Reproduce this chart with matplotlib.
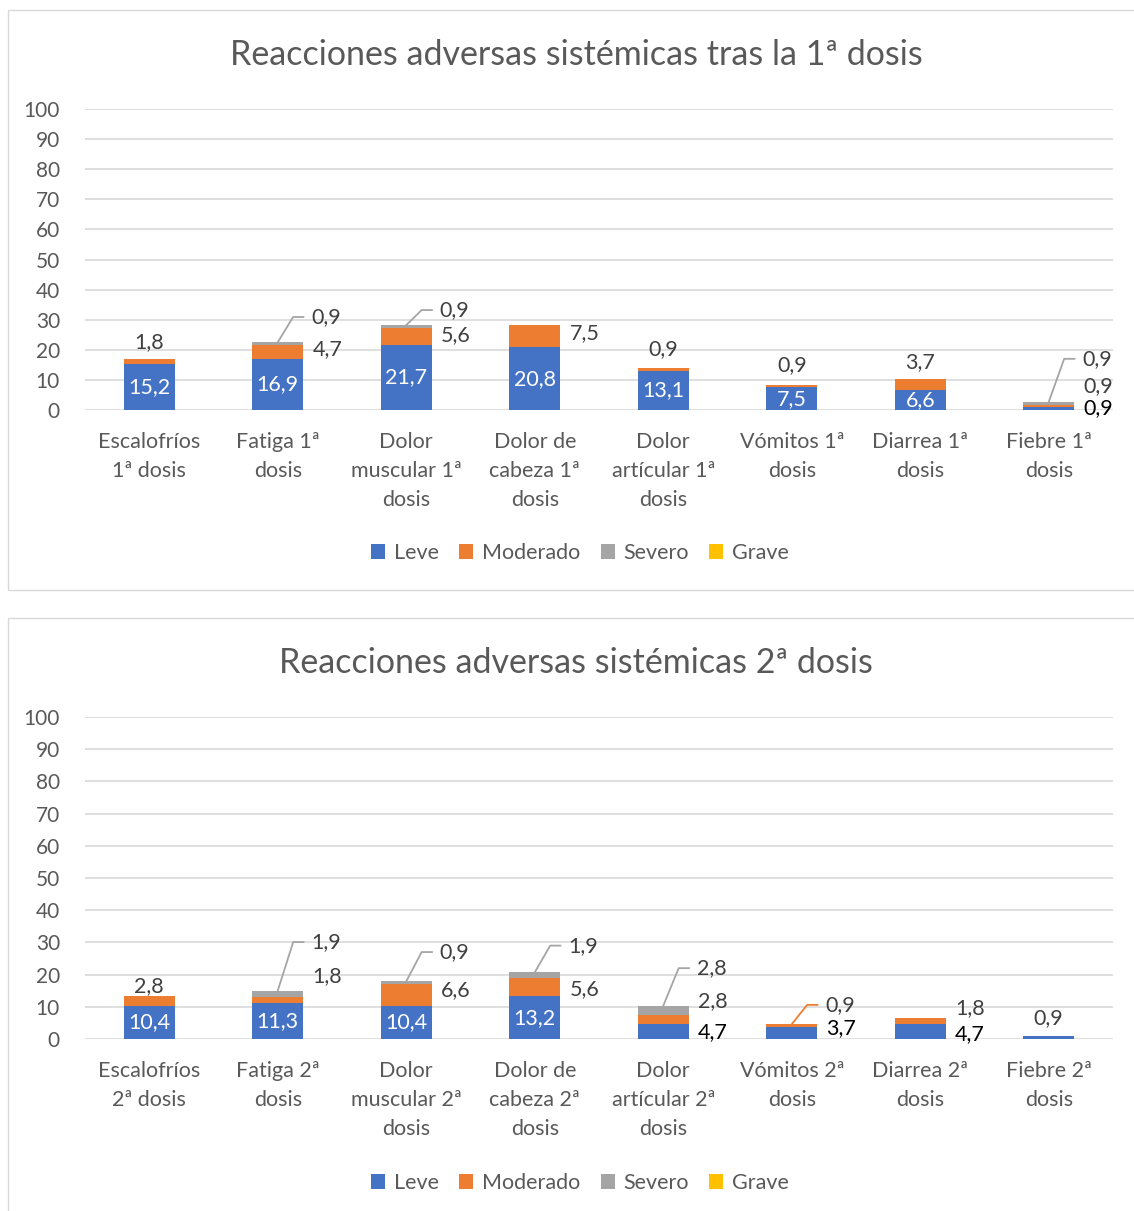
import textwrap
import numpy as np
import matplotlib
matplotlib.use('Agg')
import matplotlib.pyplot as plt
from matplotlib.patches import Rectangle

plt.rcParams['font.family'] = ['Lato', 'DejaVu Sans']

# datos
series = ['Leve', 'Moderado', 'Severo', 'Grave']
colores = ['#4472C4', '#ED7D31', '#A5A5A5', '#FFC000']

cat_1 = ['Escalofríos 1ª dosis', 'Fatiga 1ª dosis', 'Dolor muscular 1ª dosis',
         'Dolor de cabeza 1ª dosis', 'Dolor artícular 1ª dosis', 'Vómitos 1ª dosis',
         'Diarrea 1ª dosis', 'Fiebre 1ª dosis']
leve_1 = [15.2, 16.9, 21.7, 20.8, 13.1, 7.5, 6.6, 0.9]
moderado_1 = [1.8, 4.7, 5.6, 7.5, 0.9, 0.9, 3.7, 0.9]
severo_1 = [0, 0.9, 0.9, 0, 0, 0, 0, 0.9]
grave_1 = [0, 0, 0, 0, 0, 0, 0, 0]

cat_2 = ['Escalofríos 2ª dosis', 'Fatiga 2ª dosis', 'Dolor muscular 2ª dosis',
         'Dolor de cabeza 2ª dosis', 'Dolor artícular 2ª dosis', 'Vómitos 2ª dosis',
         'Diarrea 2ª dosis', 'Fiebre 2ª dosis']
leve_2 = [10.4, 11.3, 10.4, 13.2, 4.7, 3.7, 4.7, 0.9]
moderado_2 = [2.8, 1.8, 6.6, 5.6, 2.8, 0.9, 1.8, 0]
severo_2 = [0, 1.9, 0.9, 1.9, 2.8, 0, 0, 0]
grave_2 = [0, 0, 0, 0, 0, 0, 0, 0]

# colocación de etiquetas (como en Excel): (categoría, serie, modo, y del texto)
etiq_1 = [(0, 0, 'in', None), (0, 1, 'top', 22.6),
          (1, 0, 'in', None), (1, 1, 'der', 20.3), (1, 2, 'guia', 30.9),
          (2, 0, 'in', None), (2, 1, 'der', 24.9), (2, 2, 'guia', 33.2),
          (3, 0, 'in', None), (3, 1, 'der', 25.6),
          (4, 0, 'in', None), (4, 1, 'top', 20.3),
          (5, 0, 'in', None), (5, 1, 'top', 15.0),
          (6, 0, 'in', None), (6, 1, 'top', 16.0),
          (7, 0, 'derN', 0.5), (7, 1, 'der', 8.0), (7, 2, 'guia', 17.0)]
etiq_2 = [(0, 0, 'in', None), (0, 1, 'top', 16.5),
          (1, 0, 'in', None), (1, 1, 'der', 19.6), (1, 2, 'guia', 30.1),
          (2, 0, 'in', None), (2, 1, 'der', 15.2), (2, 2, 'guia', 27.0),
          (3, 0, 'in', None), (3, 1, 'der', 15.5), (3, 2, 'guia', 29.0),
          (4, 0, 'derN', 2.2), (4, 1, 'der', 11.8), (4, 2, 'guia', 22.0),
          (5, 0, 'derN', 3.4), (5, 1, 'guia', 10.6),
          (6, 0, 'derN', 1.5), (6, 1, 'der', 9.6),
          (7, 0, 'top', 6.5)]

W, H = 1134, 1211
fig = plt.figure(figsize=(W / 100, H / 100), dpi=100)
gris = '#595959'
ancho = 0.4
fs = 15.5


def ejes_px(x0, y0, x1, y1):
    return fig.add_axes([x0 / W, 1 - y1 / H, (x1 - x0) / W, (y1 - y0) / H])


def dibujar(ax, cats, valores, etiquetas):
    x = np.arange(len(cats))
    base = np.zeros(len(cats))
    for vals, nombre, color in zip(valores, series, colores):
        ax.bar(x, vals, ancho, bottom=base, color=color, label=nombre, zorder=2)
        base += np.array(vals)

    for i, s, modo, yt in etiquetas:
        v = valores[s][i]
        abajo = sum(valores[k][i] for k in range(s))
        arriba = abajo + v
        txt = f'{v:.1f}'.replace('.', ',')
        if modo == 'in':
            ax.text(i, abajo + v / 2, txt, color='white', ha='center', va='center',
                    fontsize=fs, zorder=3)
        elif modo == 'top':
            ax.text(i, yt, txt, color='#404040', ha='center', va='center', fontsize=fs)
        elif modo in ('der', 'derN'):
            c = 'black' if modo == 'derN' else '#404040'
            ax.text(i + ancho / 2 + 0.07, yt, txt, color=c, ha='left', va='center',
                    fontsize=fs)
        elif modo == 'guia':
            ax.plot([i, i + 0.12, i + 0.2], [arriba, yt, yt], color=colores[s], lw=1.3,
                    zorder=3)
            ax.text(i + 0.26, yt, txt, color='#404040', ha='left', va='center',
                    fontsize=fs)

    ax.set_xlim(-0.5, len(cats) - 0.5)
    ax.set_ylim(0, 100)
    ax.set_yticks(np.arange(0, 101, 10))
    ax.set_xticks(x)
    ax.set_xticklabels(['\n'.join(textwrap.wrap(c, 12)) for c in cats])
    ax.yaxis.grid(True, color='#D9D9D9', lw=1.2)
    ax.set_axisbelow(True)
    for sp in ax.spines.values():
        sp.set_visible(False)
    ax.tick_params(axis='both', length=0, colors=gris)
    ax.tick_params(axis='y', pad=18, labelsize=15)
    ax.tick_params(axis='x', pad=16, labelsize=fs)
    for t in ax.get_xticklabels():
        t.set_linespacing(1.55)


# marcos de los dos gráficos
for y0, y1 in [(10, 590), (618, 1220)]:
    fig.patches.append(Rectangle((8 / W, 1 - y1 / H), (W + 5 - 8) / W, (y1 - y0) / H,
                                 fill=False, edgecolor='#D9D9D9', lw=1,
                                 transform=fig.transFigure, figure=fig))

ax1 = ejes_px(85, 109, 1113, 410)
dibujar(ax1, cat_1, [leve_1, moderado_1, severo_1, grave_1], etiq_1)
fig.text(576 / W, 1 - 55 / H, 'Reacciones adversas sistémicas tras la 1ª dosis',
         ha='center', va='center', fontsize=24.5, color=gris)

ax2 = ejes_px(85, 717, 1113, 1039)
dibujar(ax2, cat_2, [leve_2, moderado_2, severo_2, grave_2], etiq_2)
fig.text(576 / W, 1 - 663 / H, 'Reacciones adversas sistémicas 2ª dosis',
         ha='center', va='center', fontsize=24.5, color=gris)

for ax, yl in [(ax1, 553), (ax2, 1183)]:
    h, l = ax.get_legend_handles_labels()
    fig.legend(h, l, loc='center', bbox_to_anchor=(580 / W, 1 - yl / H), ncol=4,
               frameon=False, fontsize=15.5, labelcolor=gris, handlelength=0.65,
               handleheight=0.65, handletextpad=0.4, columnspacing=0.95)

fig.savefig('out.png', dpi=100)
